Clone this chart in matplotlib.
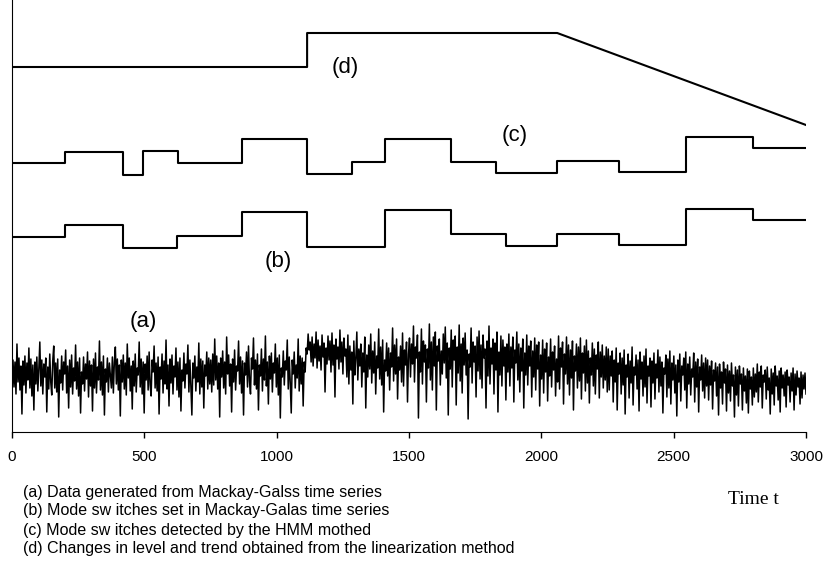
import numpy as np
import matplotlib
matplotlib.use('Agg')
import matplotlib.pyplot as plt

plt.rcParams['font.family'] = ['Liberation Sans', 'DejaVu Sans']

# (a) Mackey-Glass data (offset units, 800 samples over 0..3000)
series_a = [
    40, 72, 45, 70, 38, 88, 50, 74, 42, 66, 18, 71, 47, 76, 39, 69, 52, 84, 44, 73,
    36, 67, 22, 70, 48, 75, 41, 63, 90, 46, 72, 38, 68, 55, 74, 20, 65, 43, 78, 50,
    37, 71, 86, 44, 69, 40, 73, 15, 62, 49, 76, 42, 70, 58, 82, 39, 66, 24, 72, 45,
    77, 38, 64, 51, 87, 43, 70, 36, 74, 19, 60, 48, 75, 41, 68, 53, 80, 35, 71, 46,
    67, 21, 73, 44, 79, 39, 65, 52, 91, 42, 70, 37, 76, 17, 63, 50, 74, 40, 69, 56,
    44, 75, 39, 70, 85, 48, 73, 42, 67, 16, 72, 50, 77, 43, 69, 37, 88, 54, 74, 41,
    66, 23, 71, 46, 78, 40, 64, 57, 90, 45, 73, 38, 70, 19, 68, 52, 76, 42, 80, 47,
    36, 72, 60, 86, 44, 69, 41, 75, 18, 65, 53, 78, 39, 71, 48, 92, 43, 67, 26, 73,
    49, 77, 38, 66, 55, 84, 42, 70, 35, 74, 21, 62, 51, 79, 44, 68, 58, 87, 40, 72,
    46, 17, 69, 54, 76, 41, 65, 50, 89, 38, 73, 45, 71, 24, 67, 56, 80, 43, 74, 48,
    72, 40, 78, 47, 93, 52, 76, 43, 69, 15, 74, 55, 81, 44, 70, 38, 95, 58, 77, 46,
    68, 20, 73, 50, 82, 42, 66, 61, 91, 48, 75, 39, 71, 17, 69, 57, 80, 45, 86, 51,
    38, 74, 63, 94, 47, 72, 43, 78, 22, 67, 56, 83, 41, 73, 52, 96, 46, 70, 28, 76,
    53, 79, 40, 69, 59, 88, 45, 74, 37, 77, 14, 64, 55, 81, 47, 71, 62, 92, 43, 75,
    49, 19, 72, 58, 80, 44, 67, 54, 93, 41, 76, 48, 74, 26, 70, 60, 84, 78, 98, 82,
    90, 70, 95, 66, 88, 74, 100, 64, 92, 71, 86, 62, 97, 75, 89, 40, 84, 68, 96, 72,
    91, 60, 99, 67, 87, 35, 93, 73, 85, 63, 102, 70, 90, 58, 94, 76, 83, 55, 97, 48,
    86, 62, 80, 28, 91, 57, 74, 100, 52, 83, 66, 88, 45, 79, 60, 95, 24, 77, 55, 87,
    63, 98, 49, 81, 59, 90, 38, 76, 64, 103, 53, 85, 47, 92, 20, 72, 61, 89, 56, 84,
    42, 79, 65, 104, 51, 87, 58, 93, 33, 75, 62, 86, 50, 99, 46, 82, 67, 90, 30, 78,
    94, 55, 88, 68, 106, 50, 85, 74, 97, 14, 80, 60, 103, 48, 91, 70, 87, 30, 83, 64,
    108, 52, 90, 42, 95, 66, 100, 22, 86, 71, 93, 47, 81, 58, 98, 69, 105, 54, 89, 17,
    84, 63, 102, 45, 92, 72, 96, 27, 85, 59, 107, 51, 88, 39, 94, 67, 99, 57, 82, 13,
    78, 65, 104, 49, 90, 70, 86, 35, 95, 61, 101, 53, 87, 44, 97, 74, 83, 24, 91, 56,
    106, 48, 84, 68, 93, 38, 89, 62, 100, 20, 80, 57, 96, 46, 92, 66, 85, 32, 88, 60,
    98, 46, 85, 64, 95, 30, 82, 69, 100, 52, 88, 40, 84, 61, 93, 24, 79, 57, 97, 47,
    86, 66, 91, 35, 81, 55, 94, 42, 87, 63, 90, 26, 77, 53, 92, 39, 83, 60, 89, 31,
    75, 56, 93, 45, 80, 62, 86, 36, 73, 50, 96, 43, 84, 65, 90, 28, 78, 58, 95, 48,
    87, 37, 82, 54, 91, 22, 76, 61, 88, 44, 85, 51, 94, 33, 79, 59, 86, 41, 92, 49,
    81, 29, 74, 57, 89, 46, 83, 38, 77, 63, 90, 34, 80, 55, 87, 44, 76, 52, 85, 40,
    83, 42, 76, 56, 81, 30, 72, 50, 84, 22, 69, 58, 79, 38, 74, 47, 82, 18, 67, 55,
    78, 34, 71, 49, 85, 27, 65, 57, 77, 43, 72, 21, 80, 53, 70, 36, 76, 45, 83, 29,
    66, 56, 74, 25, 71, 49, 79, 33, 68, 54, 82, 40, 75, 46, 70, 19, 64, 58, 77, 35,
    73, 44, 81, 28, 69, 52, 76, 39, 67, 16, 72, 50, 78, 31, 66, 57, 74, 42, 80, 24,
    68, 48, 75, 37, 63, 55, 79, 30, 70, 45, 73, 20, 65, 52, 77, 41, 69, 34, 74, 46,
    72, 32, 66, 47, 71, 23, 62, 51, 69, 36, 65, 17, 68, 44, 60, 28, 70, 49, 63, 21,
    67, 39, 61, 31, 69, 46, 57, 15, 65, 37, 62, 26, 66, 48, 58, 22, 64, 41, 56, 29,
    63, 19, 61, 43, 55, 27, 64, 35, 58, 40, 68, 30, 60, 45, 66, 24, 57, 50, 62, 33,
    65, 42, 54, 18, 63, 38, 59, 27, 66, 46, 56, 32, 61, 20, 64, 44, 57, 36, 60, 25,
    62, 47, 55, 30, 59, 41, 64, 22, 58, 37, 61, 45, 54, 28, 60, 34, 57, 43, 59, 38,
]

# (b) mode switches set in the series: segment starts and levels
b_t = [0, 200, 420, 625, 870, 1115, 1410, 1660, 1866, 2060, 2295, 2547, 2800, 3000]
b_y = [195, 207, 184, 196, 220, 185, 222, 198, 186, 198, 187, 223, 212, 212]

# (c) mode switches detected by the HMM
c_t = [0, 200, 420, 495, 627, 870, 1115, 1285, 1410, 1660, 1830, 2060, 2295, 2547, 2800, 3000]
c_y = [269, 280, 257, 281, 269, 293, 258, 270, 293, 270, 259, 271, 260, 295, 284, 284]

# (d) level and trend from the linearization method
d_t = [0, 1115, 1115, 2060, 3000]
d_y = [365, 365, 399, 399, 307]

xticks = [0, 500, 1000, 1500, 2000, 2500, 3000]

legend_lines = [
    '(a) Data generated from Mackay-Galss time series',
    '(b) Mode sw itches set in Mackay-Galas time series',
    '(c) Mode sw itches detected by the HMM mothed',
    '(d) Changes in level and trend obtained from the linearization method',
]

fig = plt.figure(figsize=(8.27, 5.67), dpi=100)
ax = fig.add_axes([12 / 827, 135 / 567, 794 / 827, 432 / 567])

t_a = np.linspace(0, 3000, len(series_a))
ax.plot(t_a, series_a, color='black', lw=1.1)
ax.step(b_t, b_y, where='post', color='black', lw=1.5)
ax.step(c_t, c_y, where='post', color='black', lw=1.5)
ax.plot(d_t, d_y, color='black', lw=1.5)

lab = dict(fontsize=16, ha='center', va='center')
ax.text(1258, 365, '(d)', **lab)
ax.text(1900, 297, '(c)', **lab)
ax.text(1005, 171, '(b)', **lab)
ax.text(495, 110, '(a)', **lab)

ax.set_xlim(0, 3000)
ax.set_ylim(0, 432)
ax.set_xticks(xticks)
ax.set_xticklabels([str(v) for v in xticks])
ax.tick_params(axis='x', direction='out', length=4, width=1, pad=9, labelsize=11)
ax.set_yticks([])
ax.spines['top'].set_visible(False)
ax.spines['right'].set_visible(False)

for i, s in enumerate(legend_lines):
    fig.text(23 / 827, 1 - (492 + 19 * i) / 567, s, fontsize=11.5, ha='left', va='center')

fig.text(728 / 827, 1 - 500 / 567, 'Time t', fontsize=14, ha='left', va='center',
         family=['Liberation Serif', 'DejaVu Serif'])

fig.savefig('out.png', dpi=100)
plt.close(fig)
